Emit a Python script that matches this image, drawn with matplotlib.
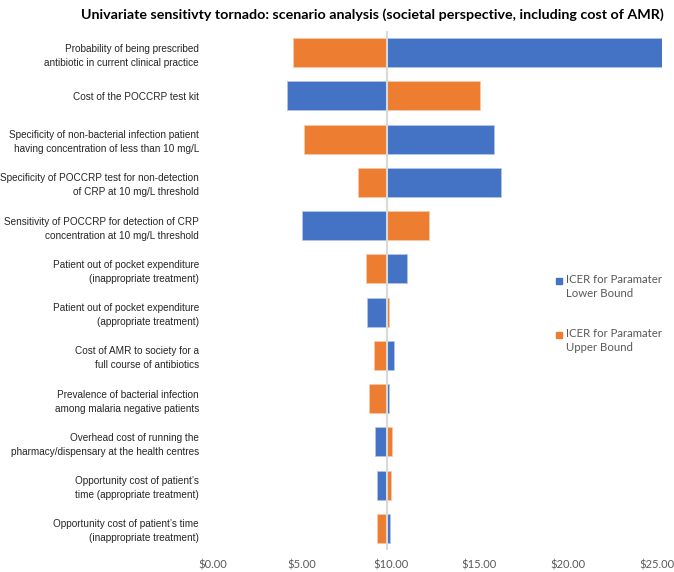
# tornado chart: univariate sensitivity analysis (societal perspective, incl. AMR)
import matplotlib
matplotlib.use("Agg")
import matplotlib.pyplot as plt
from matplotlib.patches import Rectangle
from matplotlib.ticker import FuncFormatter

BASE_ICER = 9.8

parametros = [
    "Probability of being prescribed\nantibiotic in current clinical practice",
    "Cost of the POCCRP test kit",
    "Specificity of non-bacterial infection patient\nhaving concentration of less than 10 mg/L",
    "Specificity of POCCRP test for non-detection\nof CRP at 10 mg/L threshold",
    "Sensitivity of POCCRP for detection of CRP\nconcentration at 10 mg/L threshold",
    "Patient out of pocket expenditure\n(inappropriate treatment)",
    "Patient out of pocket expenditure\n(appropriate treatment)",
    "Cost of AMR to society for a\nfull course of antibiotics",
    "Prevalence of bacterial infection\namong malaria negative patients",
    "Overhead cost of running the\npharmacy/dispensary at the health centres",
    "Opportunity cost of patient\u2019s\ntime (appropriate treatment)",
    "Opportunity cost of patient\u2019s time\n(inappropriate treatment)",
]

# ICER com o parâmetro no limite inferior / superior
icer_inferior = [25.3, 4.17, 15.81, 16.2, 5.0, 10.9, 8.68, 10.17, 9.9, 9.15, 9.23, 9.98]
icer_superior = [4.52, 15.05, 5.11, 8.16, 12.18, 8.59, 9.89, 9.06, 8.81, 10.07, 10.0, 9.25]

ticks_x = [0, 5, 10, 15, 20, 25]

AZUL = "#4472C4"
LARANJA = "#ED7D31"
CINZA = "#595959"

fig = plt.figure(figsize=(6.74, 5.72), dpi=100)
ax = fig.add_axes([0.316, 0.0385, 0.666, 0.9075])

y = list(range(len(parametros)))
ax.barh(y, [v - BASE_ICER for v in icer_superior], left=BASE_ICER, height=0.67,
        color=LARANJA, edgecolor="#F8CBAD", linewidth=0.5, zorder=2)
ax.barh(y, [v - BASE_ICER for v in icer_inferior], left=BASE_ICER, height=0.67,
        color=AZUL, edgecolor="#B4C7E7", linewidth=0.5, zorder=2)
ax.axvline(BASE_ICER, color="#D9D9D9", lw=1.5, zorder=3)

ax.set_xlim(0, 25.28)
ax.set_ylim(len(parametros) - 0.5, -0.5)
ax.set_xticks(ticks_x)
ax.xaxis.set_major_formatter(FuncFormatter(lambda v, _: f"${v:.2f}"))
ax.tick_params(axis="x", length=0, labelsize=8, labelcolor=CINZA, pad=6.5)
for lbl in ax.get_xticklabels():
    lbl.set_family("Lato")

ax.set_yticks(y)
ax.set_yticklabels(parametros, fontsize=7.2, family="Liberation Sans",
                   color="#262626", linespacing=1.5)
ax.tick_params(axis="y", length=0, pad=10)
for lado in ax.spines.values():
    lado.set_visible(False)

fig.text(0.553, 0.975, "Univariate sensitivty tornado: scenario analysis (societal perspective, including cost of AMR)",
         ha="center", va="center", fontsize=10.3, fontweight="bold", family="Lato", color="#000000")

# legenda desenhada à mão: quadrado alinhado com a primeira linha do texto
legenda = [
    (AZUL, "ICER for Paramater\nLower Bound", 281),
    (LARANJA, "ICER for Paramater\nUpper Bound", 335),
]
W, H = 674, 572
for cor, texto, ypx in legenda:
    fig.patches.append(Rectangle((556 / W, 1 - (ypx + 3) / H), 6 / W, 6 / H,
                                 transform=fig.transFigure, color=cor))
    fig.text(566 / W, 1 - (ypx - 7) / H, texto, ha="left", va="top", fontsize=8.2,
             family="Lato", color=CINZA, linespacing=1.35)

fig.savefig("out.png", dpi=100)
